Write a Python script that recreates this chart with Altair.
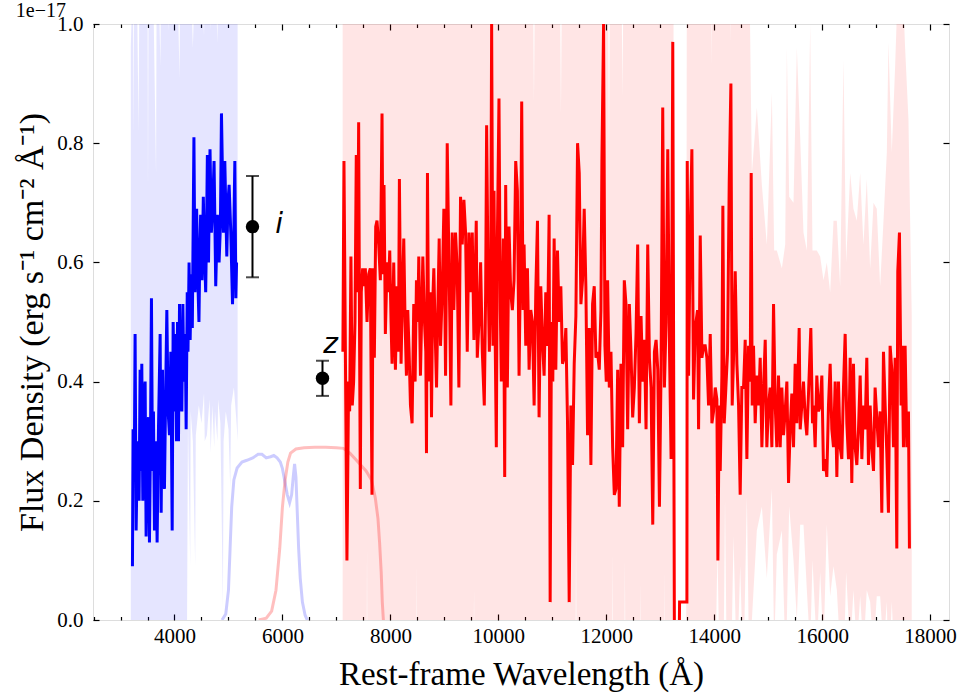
import altair as alt
import pandas as pd

# ---------------- data ----------------
# blue spectrum (rest-frame wavelength in Angstrom, flux in 1e-17 units)
blue_wl = [3221, 3233, 3258, 3270, 3289, 3314, 3344, 3363, 3382, 3394, 3413, 3437, 3456, 3474,
           3499, 3518, 3536, 3555, 3573, 3592, 3610, 3629, 3654, 3678, 3703, 3734, 3753, 3777,
           3796, 3814, 3839, 3858, 3882, 3907, 3932, 3957, 3975, 4000, 4019, 4037, 4056, 4074,
           4093, 4111, 4136, 4155, 4173, 4198, 4216, 4236, 4250, 4270, 4290, 4310, 4330, 4345,
           4360, 4380, 4410, 4430, 4453, 4470, 4484, 4510, 4534, 4555, 4578, 4595, 4609, 4630,
           4658, 4683, 4710, 4733, 4764, 4795, 4826, 4850, 4870, 4907, 4932, 4969, 4990, 5012,
           5043, 5075, 5100, 5118, 5137, 5150]
blue_flux = [0.09, 0.32, 0.30, 0.48, 0.15, 0.30, 0.20, 0.42, 0.25, 0.43, 0.20, 0.38, 0.40, 0.14,
             0.33, 0.34, 0.13, 0.30, 0.54, 0.25, 0.35, 0.15, 0.30, 0.13, 0.32, 0.48, 0.18, 0.42,
             0.26, 0.22, 0.40, 0.52, 0.35, 0.31, 0.45, 0.15, 0.50, 0.35, 0.48, 0.30, 0.50, 0.30,
             0.53, 0.38, 0.35, 0.53, 0.40, 0.48, 0.32, 0.55, 0.45, 0.60, 0.47, 0.58, 0.49, 0.65,
             0.81, 0.55, 0.69, 0.58, 0.50, 0.62, 0.68, 0.57, 0.71, 0.62, 0.55, 0.66, 0.78, 0.60,
             0.79, 0.65, 0.70, 0.77, 0.56, 0.68, 0.60, 0.66, 0.85, 0.65, 0.77, 0.61, 0.70, 0.73,
             0.65, 0.53, 0.66, 0.77, 0.54, 0.60]

# blue uncertainty band (lower / upper envelope)
bband_wl = [3190, 3230, 3242, 3255, 3300, 3335, 3350, 3400, 3450, 3500, 3509, 3520, 3560, 3600,
            3658, 3670, 3700, 3739, 3750, 3800, 3850, 3888, 3900, 3950, 4000, 4050, 4093, 4105,
            4150, 4200, 4228, 4250, 4291, 4300, 4340, 4383, 4395, 4450, 4500, 4547, 4560, 4600,
            4650, 4671, 4700, 4736, 4750, 4795, 4810, 4850, 4897, 4910, 4950, 5000, 5033, 5050,
            5100, 5150, 5170]
bband_hi = [0.96, 1.10, 0.82, 1.10, 1.10, 0.82, 1.10, 1.10, 1.10, 1.10, 0.73, 1.10, 1.10, 1.10,
            0.75, 1.10, 1.10, 0.93, 1.10, 1.10, 1.10, 0.99, 1.10, 1.10, 1.10, 1.10, 0.91, 1.10,
            1.10, 1.10, 1.10, 1.10, 1.10, 1.10, 0.96, 1.10, 1.10, 1.10, 1.10, 0.98, 1.10, 1.10,
            1.10, 0.99, 1.10, 1.10, 1.10, 0.97, 1.10, 1.10, 1.10, 1.10, 1.10, 1.10, 1.10, 1.10,
            1.10, 1.10, 1.10]
bband_lo = [-0.1, -0.1, -0.1, -0.1, -0.1, -0.1, -0.1, -0.1, -0.1, -0.1, -0.1, -0.1, -0.1, -0.1,
            -0.1, -0.1, -0.1, -0.1, -0.1, -0.1, -0.1, -0.1, -0.1, -0.1, -0.1, -0.1, -0.1, -0.1,
            -0.1, -0.1, -0.1, 0.33, 0.09, 0.35, 0.30, 0.09, 0.31, 0.36, 0.33, 0.38, 0.30, 0.31,
            0.37, 0.28, 0.36, 0.29, 0.35, 0.30, 0.37, 0.33, 0.02, 0.30, 0.35, 0.32, 0.22, 0.36,
            0.39, 0.33, 0.30]

# red spectrum
red_wl = [7120, 7140, 7195, 7226, 7245, 7269, 7294, 7319, 7344, 7368, 7393, 7412, 7430, 7443,
          7461, 7486, 7511, 7536, 7567, 7598, 7628, 7659, 7678, 7703, 7728, 7752, 7783, 7814,
          7845, 7864, 7882, 7907, 7938, 7963, 7988, 8012, 8031, 8062, 8093, 8124, 8149, 8167,
          8198, 8223, 8248, 8272, 8297, 8322, 8347, 8372, 8402, 8433, 8458, 8483, 8508, 8526,
          8557, 8582, 8601, 8632, 8656, 8669, 8687, 8706, 8724, 8743, 8762, 8780, 8805, 8830,
          8855, 8879, 8904, 8929, 8960, 8991, 9022, 9040, 9053, 9077, 9102, 9121, 9146, 9176,
          9207, 9238, 9269, 9300, 9331, 9362, 9393, 9424, 9455, 9486, 9517, 9548, 9591, 9610,
          9641, 9672, 9703, 9740, 9765, 9783, 9808, 9833, 9858, 9876, 9901, 9920, 9944, 9963,
          9981, 10012, 10037, 10056, 10093, 10118, 10136, 10167, 10198, 10229, 10260, 10291,
          10322, 10353, 10384, 10415, 10433, 10458, 10477, 10508, 10539, 10570, 10601, 10632,
          10663, 10694, 10725, 10755, 10786, 10817, 10848, 10879, 10910, 10941, 10960, 10985,
          11009, 11034, 11065, 11096, 11127, 11158, 11189, 11220, 11251, 11282, 11313, 11344,
          11375, 11406, 11437, 11468, 11499, 11530, 11560, 11591, 11622, 11653, 11684, 11715,
          11746, 11777, 11808, 11839, 11870, 11901, 11919, 11950, 11975, 12000, 12025, 12056,
          12087, 12118, 12149, 12180, 12211, 12241, 12272, 12303, 12334, 12365, 12396, 12427,
          12458, 12489, 12520, 12551, 12582, 12613, 12644, 12675, 12706, 12737, 12768, 12799,
          12830, 12861, 12892, 12923, 12954, 12985, 13015, 13046, 13077, 13108, 13139, 13170,
          13201, 13232, 13263, 13350, 13358, 13494, 13500, 13525, 13556, 13586, 13617, 13648,
          13691, 13710, 13741, 13772, 13802, 13833, 13864, 13895, 13926, 13957, 13988, 14019,
          14049, 14068, 14093, 14111, 14142, 14160, 14185, 14216, 14247, 14278, 14309, 14333,
          14358, 14389, 14420, 14451, 14481, 14512, 14543, 14574, 14605, 14636, 14667, 14685,
          14704, 14728, 14759, 14790, 14821, 14852, 14883, 14914, 14945, 14975, 15006, 15037,
          15068, 15099, 15130, 15160, 15191, 15222, 15253, 15284, 15315, 15346, 15377, 15407,
          15438, 15469, 15500, 15531, 15574, 15593, 15623, 15654, 15685, 15716, 15747, 15790,
          15821, 15840, 15870, 15901, 15932, 15963, 15994, 16025, 16056, 16086, 16117, 16148,
          16179, 16210, 16241, 16272, 16302, 16333, 16364, 16395, 16426, 16457, 16488, 16519,
          16549, 16580, 16611, 16642, 16673, 16704, 16735, 16765, 16796, 16827, 16858, 16889,
          16920, 16951, 16981, 17012, 17043, 17074, 17105, 17136, 17167, 17198, 17228, 17259,
          17290, 17321, 17352, 17383, 17401, 17432, 17463, 17481, 17506, 17537, 17568, 17599,
          17617]
red_flux = [0.45, 0.77, 0.10, 0.40, 0.35, 0.61, 0.36, 0.40, 0.50, 0.78, 0.55, 0.835, 0.45, 0.22,
            0.55, 0.59, 0.56, 0.59, 0.50, 0.58, 0.59, 0.21, 0.59, 0.44, 0.66, 0.67, 0.63, 0.57,
            0.85, 0.58, 0.73, 0.48, 0.60, 0.55, 0.62, 0.50, 0.43, 0.60, 0.42, 0.56, 0.45, 0.74,
            0.43, 0.55, 0.64, 0.50, 0.41, 0.52, 0.45, 0.36, 0.33, 0.53, 0.40, 0.57, 0.50, 0.61,
            0.41, 0.52, 0.61, 0.50, 0.45, 0.28, 0.75, 0.50, 0.40, 0.55, 0.34, 0.52, 0.59, 0.48,
            0.39, 0.52, 0.64, 0.46, 0.55, 0.69, 0.41, 0.60, 0.80, 0.65, 0.50, 0.36, 0.65, 0.52,
            0.65, 0.59, 0.39, 0.71, 0.63, 0.705, 0.65, 0.45, 0.65, 0.55, 0.65, 0.47, 0.67, 0.44,
            0.50, 0.60, 0.45, 0.36, 0.55, 0.83, 0.59, 0.45, 0.56, 1.00, 0.46, 0.72, 0.45, 0.29,
            0.63, 0.875, 0.52, 0.40, 0.64, 0.24, 0.73, 0.39, 0.66, 0.55, 0.52, 0.57,
            0.77, 0.72, 0.41, 0.63, 0.87, 0.52, 0.63, 0.46, 0.59, 0.42, 0.52, 0.50,
            0.36, 0.55, 0.67, 0.34, 0.56, 0.47, 0.41, 0.55, 0.46, 0.68, 0.03, 0.50,
            0.40, 0.64, 0.42, 0.62, 0.50, 0.56, 0.43, 0.44, 0.49, 0.33, 0.03, 0.36,
            0.26, 0.43, 0.51, 0.80, 0.75, 0.53, 0.57, 0.69, 0.56, 0.31, 0.49, 0.26,
            0.53, 0.56, 0.44, 0.45, 0.42, 0.52, 0.77, 1.00, 0.46, 0.40, 0.57, 0.39,
            0.45, 0.29, 0.21, 0.22, 0.42, 0.19, 0.43, 0.29, 0.57, 0.53, 0.32, 0.53,
            0.45, 0.34, 0.39, 0.48, 0.63, 0.33, 0.51, 0.40, 0.47, 0.32, 0.63, 0.44,
            0.39, 0.16, 0.45, 0.47, 0.42, 0.19, 0.42, 0.86, 0.39, 0.50, 0.79, 0.46,
            0.27, 0.97, -0.05, -0.05, 0.03, 0.03, 0.77, 0.41, 0.65, 0.79, 0.37, 0.49,
            0.52, 0.32, 0.645, 0.44, 0.46, 0.46, 0.44, 0.36, 0.48, 0.33, 0.35, 0.39,
            0.37, 0.10, 0.36, 0.25, 0.41, 0.695, 0.33, 0.39, 0.45, 0.735, 0.90, 0.36,
            0.44, 0.585, 0.43, 0.36, 0.21, 0.39, 0.39, 0.47, 0.27, 0.46, 0.40, 0.75,
            0.36, 0.46, 0.33, 0.41, 0.36, 0.44, 0.29, 0.39, 0.47, 0.29, 0.36, 0.39,
            0.29, 0.53, 0.36, 0.29, 0.41, 0.29, 0.39, 0.31, 0.35, 0.40, 0.23, 0.32,
            0.38, 0.29, 0.43, 0.33, 0.49, 0.32, 0.36, 0.40, 0.34, 0.31, 0.38, 0.49,
            0.33, 0.36, 0.29, 0.41, 0.35, 0.36, 0.41, 0.25, 0.27, 0.24, 0.36, 0.43,
            0.32, 0.29, 0.40, 0.24, 0.40, 0.29, 0.27, 0.39, 0.48, 0.33, 0.27, 0.44,
            0.23, 0.43, 0.29, 0.26, 0.32, 0.41, 0.27, 0.36, 0.32, 0.44, 0.26, 0.36,
            0.29, 0.25, 0.39, 0.34, 0.29, 0.35, 0.18, 0.45, 0.36, 0.28, 0.18, 0.46,
            0.42, 0.29, 0.44, 0.12, 0.585, 0.65, 0.36, 0.46, 0.29, 0.46, 0.29, 0.35,
            0.12]

# red uncertainty band
rband_wl = [7115, 7560, 7567, 7575, 8475, 8483, 8491, 9540, 9550, 9560, 10640, 10660, 10680,
            11140, 11160, 11180, 11430, 11440, 11450, 11930, 11950, 11970, 12030, 12050, 12070,
            12110, 12120, 12130, 12280, 12300, 12320, 12335, 12345, 12355, 12630, 12640, 12650,
            13070, 13077, 13085, 13245, 13260, 13480, 13492, 13940, 13950, 13960, 14020, 14060,
            14100, 14170, 14200, 14235, 14290, 14300, 14310, 14358, 14420, 14481, 14540, 14605,
            14650, 14698, 14790, 14883, 14975, 15068, 15111, 15160, 15253, 15315, 15346, 15389,
            15469, 15531, 15593, 15654, 15716, 15778, 15821, 15901, 15963, 16025, 16086, 16148,
            16210, 16272, 16333, 16395, 16444, 16519, 16580, 16642, 16704, 16765, 16827, 16889,
            16951, 17012, 17074, 17136, 17198, 17228, 17290, 17352, 17414, 17475, 17537, 17599,
            17660]
rband_hi = [1.10, 1.10, 1.10, 1.10, 1.10, 1.10, 1.10, 1.10, 1.10, 1.10, 1.10, 0.87, 1.10,
            1.10, 0.85, 1.10, 1.10, 1.10, 1.10, 1.10, 0.90, 1.10, 1.10, 0.80, 1.10,
            1.10, 1.10, 1.10, 1.10, 0.88, 1.10, 1.10, 1.10, 1.10, 1.10, 1.10, 1.10,
            1.10, 1.10, 1.10, 1.10, 0.03, 0.03, 1.10, 1.10, 0.93, 1.10, 1.10, 1.10,
            1.10, 1.10, 1.10, 1.10, 1.10, 0.97, 1.10, 1.10, 1.10, 1.10, 1.10, 1.10,
            1.10, 0.75, 0.86, 0.73, 0.63, 0.885, 0.62, 0.62, 0.59, 0.63, 0.96, 0.71,
            0.70, 0.96, 0.81, 0.65, 0.62, 1.00, 0.62, 0.62, 0.61, 0.57, 0.60, 0.55,
            0.67, 0.67, 0.56, 0.94, 0.60, 0.75, 0.69, 0.67, 0.75, 0.63, 0.74, 0.59,
            0.70, 0.69, 0.56, 0.67, 0.785, 0.97, 0.785, 0.93, 1.10, 1.10, 0.96, 0.84,
            0.51]
rband_lo = [-0.1, -0.1, 0.12, -0.1, -0.1, 0.09, -0.1, -0.1, 0.05, -0.1, -0.1, -0.1, -0.1,
            -0.1, -0.1, -0.1, -0.1, 0.146, -0.1, -0.1, -0.1, -0.1, -0.1, -0.1, -0.1,
            -0.1, 0.11, -0.1, -0.1, -0.1, -0.1, -0.1, 0.10, -0.1, -0.1, 0.06, -0.1,
            -0.1, 0.08, -0.1, -0.1, 0.03, 0.03, -0.1, -0.1, -0.1, -0.1, -0.1, 0.12,
            -0.1, -0.1, 0.20, -0.1, -0.1, -0.1, -0.1, 0.14, -0.1, 0.09, -0.1, 0.206,
            -0.1, 0.0, 0.15, 0.19, 0.07, 0.22, -0.05, 0.11, 0.15, -0.05, 0.0, 0.19,
            0.10, 0.0, 0.16, 0.16, 0.05, -0.05, 0.10, -0.05, 0.08, -0.05, 0.16, 0.04,
            0.09, 0.05, -0.05, -0.1, 0.08, -0.05, 0.05, -0.05, 0.04, -0.05, 0.05, 0.03,
            -0.05, 0.04, 0.04, -0.05, 0.03, -0.1, 0.03, -0.1, -0.1, -0.1, 0.0, -0.1,
            0.0]

# filter transmission curves (scaled to the flux axis)
ifilt_wl = [4880, 4950, 5000, 5030, 5060, 5100, 5160, 5250, 5340, 5450, 5550, 5620, 5700, 5780,
            5840, 5900, 5960, 6000, 6050, 6090, 6133, 6170, 6200, 6225, 6250, 6275, 6300, 6330,
            6370, 6420, 6460]
ifilt_t = [0.0, 0.01, 0.05, 0.12, 0.19, 0.235, 0.255, 0.265, 0.268, 0.272, 0.278, 0.278, 0.272,
           0.274, 0.276, 0.272, 0.265, 0.254, 0.23, 0.21, 0.197, 0.21, 0.24, 0.262, 0.24, 0.18,
           0.12, 0.07, 0.03, 0.008, 0.0]
zfilt_wl = [5560, 5700, 5800, 5880, 5950, 6000, 6050, 6100, 6150, 6250, 6400, 6600, 6800, 7000,
            7130, 7250, 7350, 7450, 7550, 7650, 7720, 7770, 7800, 7830, 7850, 7870]
zfilt_t = [0.0, 0.003, 0.015, 0.05, 0.12, 0.19, 0.235, 0.265, 0.28, 0.287, 0.289, 0.29, 0.29,
           0.289, 0.288, 0.28, 0.27, 0.26, 0.25, 0.235, 0.205, 0.17, 0.13, 0.08, 0.03, 0.0]

# photometric points
phot_band = ["i", "z"]
phot_wl = [5445, 6742]
phot_flux = [0.660, 0.4055]
phot_lo = [0.575, 0.376]
phot_hi = [0.745, 0.435]
label_wl = [5937, 6894]
label_y = [0.663, 0.461]

x_major = [4000, 6000, 8000, 10000, 12000, 14000, 16000, 18000]
x_minor = [2500, 3000, 3500, 4500, 5000, 5500, 6500, 7000, 7500, 8500, 9000, 9500, 10500,
           11000, 11500, 12500, 13000, 13500, 14500, 15000, 15500, 16500, 17000, 17500]
y_major = [0.0, 0.2, 0.4, 0.6, 0.8, 1.0]

# ---------------- chart ----------------
SERIF = "Liberation Serif"
xs = alt.Scale(domain=[2490, 18350], nice=False, zero=False)
ys = alt.Scale(domain=[0, 1], nice=False, zero=False)

common_axis = dict(grid=False, domain=False, tickColor="black", tickWidth=1.2,
                   labelColor="black", labelFont=SERIF, labelFontSize=21)

ax_bottom = alt.Axis(orient="bottom", values=x_major, format="d", tickSize=6, offset=-6,
                     labelPadding=5, title="Rest-frame Wavelength (Å)", titleFont=SERIF,
                     titleFontSize=33, titleFontWeight="normal", titleColor="black",
                     titlePadding=12, **common_axis)
ax_top = alt.Axis(orient="top", values=x_major, tickSize=6, offset=-6, labels=False,
                  title=None, **common_axis)
ax_bottom_minor = alt.Axis(orient="bottom", values=x_minor, tickSize=3.5, offset=-3.5,
                           labels=False, title=None, **common_axis)
ax_top_minor = alt.Axis(orient="top", values=x_minor, tickSize=3.5, offset=-3.5,
                        labels=False, title=None, **common_axis)
ay_left = alt.Axis(orient="left", values=y_major, format=".1f", tickSize=6, offset=-6,
                   labelPadding=10, title="Flux Density (erg s⁻¹ cm⁻² Å⁻¹)", titleFont=SERIF,
                   titleFontSize=34, titleFontWeight="normal", titleColor="black",
                   titlePadding=7, **common_axis)
ay_right = alt.Axis(orient="right", values=y_major, tickSize=6, offset=-6, labels=False,
                    title=None, **common_axis)

bband = pd.DataFrame({"wl": bband_wl, "lo": bband_lo, "hi": bband_hi})
rband = pd.DataFrame({"wl": rband_wl, "lo": rband_lo, "hi": rband_hi})
ifl = pd.DataFrame({"wl": ifilt_wl, "t": ifilt_t})
zfl = pd.DataFrame({"wl": zfilt_wl, "t": zfilt_t})
bsp = pd.DataFrame({"wl": blue_wl, "f": blue_flux})
rsp = pd.DataFrame({"wl": red_wl, "f": red_flux})
phot = pd.DataFrame({"band": phot_band, "wl": phot_wl, "f": phot_flux, "lo": phot_lo,
                     "hi": phot_hi, "lwl": label_wl, "ly": label_y})

l_bband = alt.Chart(bband).mark_area(clip=True, color="blue", opacity=0.1).encode(
    x=alt.X("wl:Q", scale=xs, axis=ax_bottom),
    y=alt.Y("lo:Q", scale=ys, axis=ay_left),
    y2="hi:Q")
l_rband = alt.Chart(rband).mark_area(clip=True, color="red", opacity=0.1).encode(
    x=alt.X("wl:Q", scale=xs, axis=ax_top),
    y=alt.Y("lo:Q", scale=ys, axis=ay_right),
    y2="hi:Q")
l_ifl = alt.Chart(ifl).mark_line(clip=True, color="blue", opacity=0.2, strokeWidth=3).encode(
    x=alt.X("wl:Q", scale=xs, axis=ax_bottom_minor),
    y=alt.Y("t:Q", scale=ys, axis=None))
l_zfl = alt.Chart(zfl).mark_line(clip=True, color="red", opacity=0.25, strokeWidth=3).encode(
    x=alt.X("wl:Q", scale=xs, axis=ax_top_minor),
    y=alt.Y("t:Q", scale=ys, axis=None))
l_bsp = alt.Chart(bsp).mark_line(clip=True, color="blue", strokeWidth=3).encode(
    x=alt.X("wl:Q", scale=xs, axis=None),
    y=alt.Y("f:Q", scale=ys, axis=None))
l_rsp = alt.Chart(rsp).mark_line(clip=True, color="red", strokeWidth=3).encode(
    x=alt.X("wl:Q", scale=xs, axis=None),
    y=alt.Y("f:Q", scale=ys, axis=None))
l_err = alt.Chart(phot).mark_rule(color="black", strokeWidth=2).encode(
    x=alt.X("wl:Q", scale=xs, axis=None),
    y=alt.Y("lo:Q", scale=ys, axis=None), y2="hi:Q")
l_cap_lo = alt.Chart(phot).mark_tick(color="black", orient="horizontal", size=13,
                                     thickness=2).encode(
    x=alt.X("wl:Q", scale=xs, axis=None), y=alt.Y("lo:Q", scale=ys, axis=None))
l_cap_hi = alt.Chart(phot).mark_tick(color="black", orient="horizontal", size=13,
                                     thickness=2).encode(
    x=alt.X("wl:Q", scale=xs, axis=None), y=alt.Y("hi:Q", scale=ys, axis=None))
l_pt = alt.Chart(phot).mark_point(filled=True, color="black", size=180, opacity=1).encode(
    x=alt.X("wl:Q", scale=xs, axis=None), y=alt.Y("f:Q", scale=ys, axis=None))
l_txt = alt.Chart(phot).mark_text(font="DejaVu Sans", fontStyle="italic", fontSize=28,
                                  color="black", align="center", baseline="middle").encode(
    x=alt.X("lwl:Q", scale=xs, axis=None), y=alt.Y("ly:Q", scale=ys, axis=None),
    text="band:N")

chart = alt.layer(
    l_bband, l_rband, l_ifl, l_zfl, l_bsp, l_rsp, l_err, l_cap_lo, l_cap_hi, l_pt, l_txt
).resolve_axis(x="independent", y="independent").properties(
    width=856, height=596,
    padding={"left": 93, "top": 24, "right": 11, "bottom": 78},
    autosize=alt.AutoSizeParams(type="none"),
    title=alt.TitleParams("1e−17", anchor="start", font=SERIF, fontSize=20,
                          fontWeight="normal", color="black", offset=-8),
).configure_view(stroke="black", strokeWidth=1.5).configure(background="white")

chart.save("out.html", embed_options={"renderer": "svg", "actions": False})
